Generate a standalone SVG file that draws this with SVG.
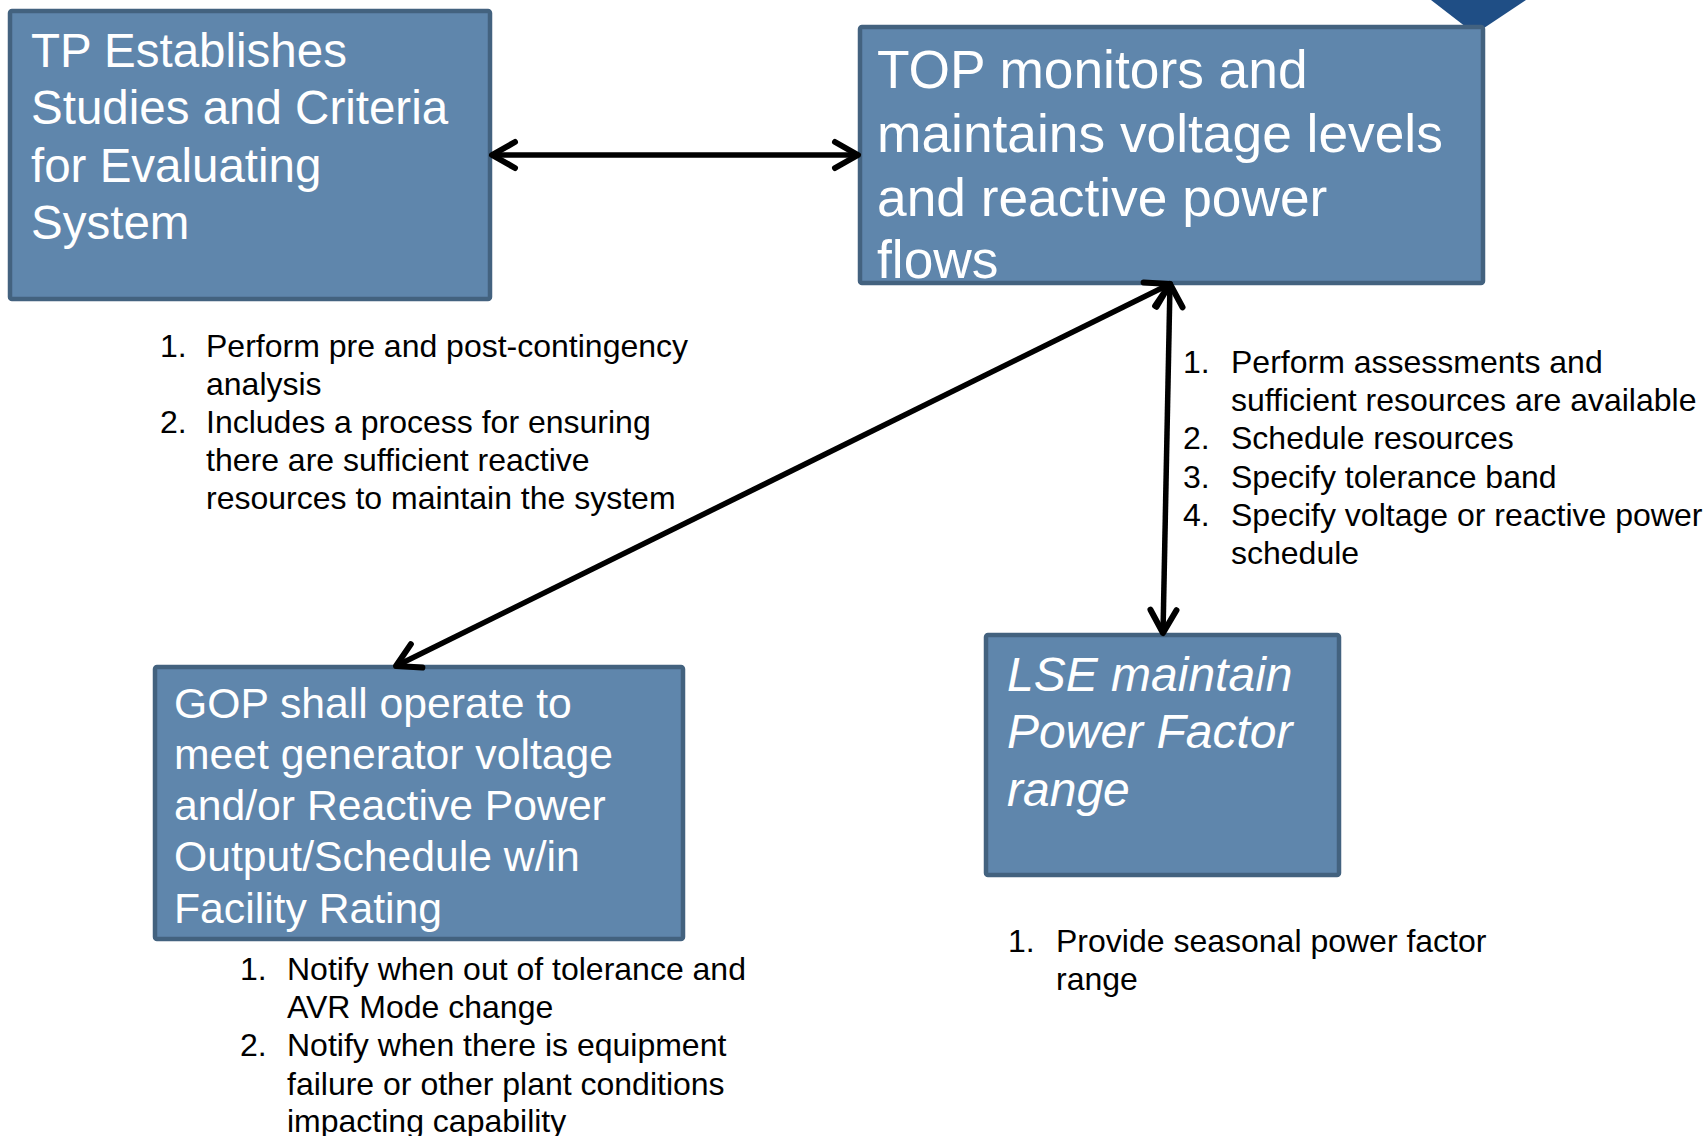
<svg xmlns="http://www.w3.org/2000/svg" width="1706" height="1136" viewBox="0 0 1706 1136">
  <style>
    .box { fill: #5F86AC; stroke: #43627F; stroke-width: 4.5; }
    .head { font-family: "Liberation Sans", Arial, sans-serif; fill: #FFFFFF; }
    .list { font-family: "Liberation Sans", Arial, sans-serif; font-size: 32px; fill: #000000; }
    .conn { stroke: #000000; stroke-width: 5.5; fill: none; marker-start: url(#chev); marker-end: url(#chev); }
  </style>
  <defs>
    <marker id="chev" markerUnits="userSpaceOnUse" orient="auto-start-reverse" refX="0" refY="0" markerWidth="40" markerHeight="40" viewBox="-30 -20 40 40" overflow="visible">
      <path d="M-23,-13 L0,0 L-23,13" fill="none" stroke="#000000" stroke-width="6" stroke-linecap="round" stroke-linejoin="round"/>
    </marker>
  </defs>

  <rect width="1706" height="1136" fill="#FFFFFF"/>

  <!-- corner accent behind the TOP box -->
  <polygon points="1431,0 1526,0 1475,34" fill="#1F4E85"/>

  <g id="node-tp">
    <rect class="box" x="10" y="11" width="480" height="288" rx="2"/>
    <text class="head" font-size="47.5">
      <tspan x="31" y="67">TP Establishes</tspan>
      <tspan x="31" y="124">Studies and Criteria</tspan>
      <tspan x="31" y="182">for Evaluating</tspan>
      <tspan x="31" y="239">System</tspan>
    </text>
  </g>

  <g id="node-top">
    <rect class="box" x="860" y="27" width="623" height="256" rx="2"/>
    <text class="head" font-size="53.3">
      <tspan x="877" y="88">TOP monitors and</tspan>
      <tspan x="877" y="152">maintains voltage levels</tspan>
      <tspan x="877" y="216">and reactive power</tspan>
      <tspan x="877" y="278">flows</tspan>
    </text>
  </g>

  <g id="node-gop">
    <rect class="box" x="155" y="667" width="528" height="272" rx="2"/>
    <text class="head" font-size="42.7">
      <tspan x="174" y="718">GOP shall operate to</tspan>
      <tspan x="174" y="769">meet generator voltage</tspan>
      <tspan x="174" y="820">and/or Reactive Power</tspan>
      <tspan x="174" y="871">Output/Schedule w/in</tspan>
      <tspan x="174" y="923">Facility Rating</tspan>
    </text>
  </g>

  <g id="node-lse">
    <rect class="box" x="986" y="635" width="353" height="240" rx="2"/>
    <text class="head" font-size="48" font-style="italic">
      <tspan x="1007" y="691">LSE maintain</tspan>
      <tspan x="1007" y="748">Power Factor</tspan>
      <tspan x="1007" y="806">range</tspan>
    </text>
  </g>

  <g id="list-tp">
    <text class="list">
      <tspan x="160" y="357">1.</tspan><tspan x="206" y="357">Perform pre and post-contingency</tspan>
      <tspan x="206" y="395">analysis</tspan>
      <tspan x="160" y="433">2.</tspan><tspan x="206" y="433">Includes a process for ensuring</tspan>
      <tspan x="206" y="471">there are sufficient reactive</tspan>
      <tspan x="206" y="509">resources to maintain the system</tspan>
    </text>
  </g>

  <g id="list-top">
    <text class="list">
      <tspan x="1183" y="373">1.</tspan><tspan x="1231" y="373">Perform assessments and</tspan>
      <tspan x="1231" y="411">sufficient resources are available</tspan>
      <tspan x="1183" y="449">2.</tspan><tspan x="1231" y="449">Schedule resources</tspan>
      <tspan x="1183" y="488">3.</tspan><tspan x="1231" y="488">Specify tolerance band</tspan>
      <tspan x="1183" y="526">4.</tspan><tspan x="1231" y="526">Specify voltage or reactive power</tspan>
      <tspan x="1231" y="564">schedule</tspan>
    </text>
  </g>

  <g id="list-gop">
    <text class="list">
      <tspan x="240" y="980">1.</tspan><tspan x="287" y="980">Notify when out of tolerance and</tspan>
      <tspan x="287" y="1018">AVR Mode change</tspan>
      <tspan x="240" y="1056">2.</tspan><tspan x="287" y="1056">Notify when there is equipment</tspan>
      <tspan x="287" y="1095">failure or other plant conditions</tspan>
      <tspan x="287" y="1132">impacting capability</tspan>
    </text>
  </g>

  <g id="list-lse">
    <text class="list">
      <tspan x="1008" y="952">1.</tspan><tspan x="1056" y="952">Provide seasonal power factor</tspan>
      <tspan x="1056" y="990">range</tspan>
    </text>
  </g>

  <g id="connectors">
    <line class="conn" x1="492" y1="155" x2="858" y2="155"/>
    <line class="conn" x1="396" y1="666" x2="1170" y2="284"/>
    <line class="conn" x1="1170" y1="284" x2="1163" y2="633"/>
  </g>
</svg>
